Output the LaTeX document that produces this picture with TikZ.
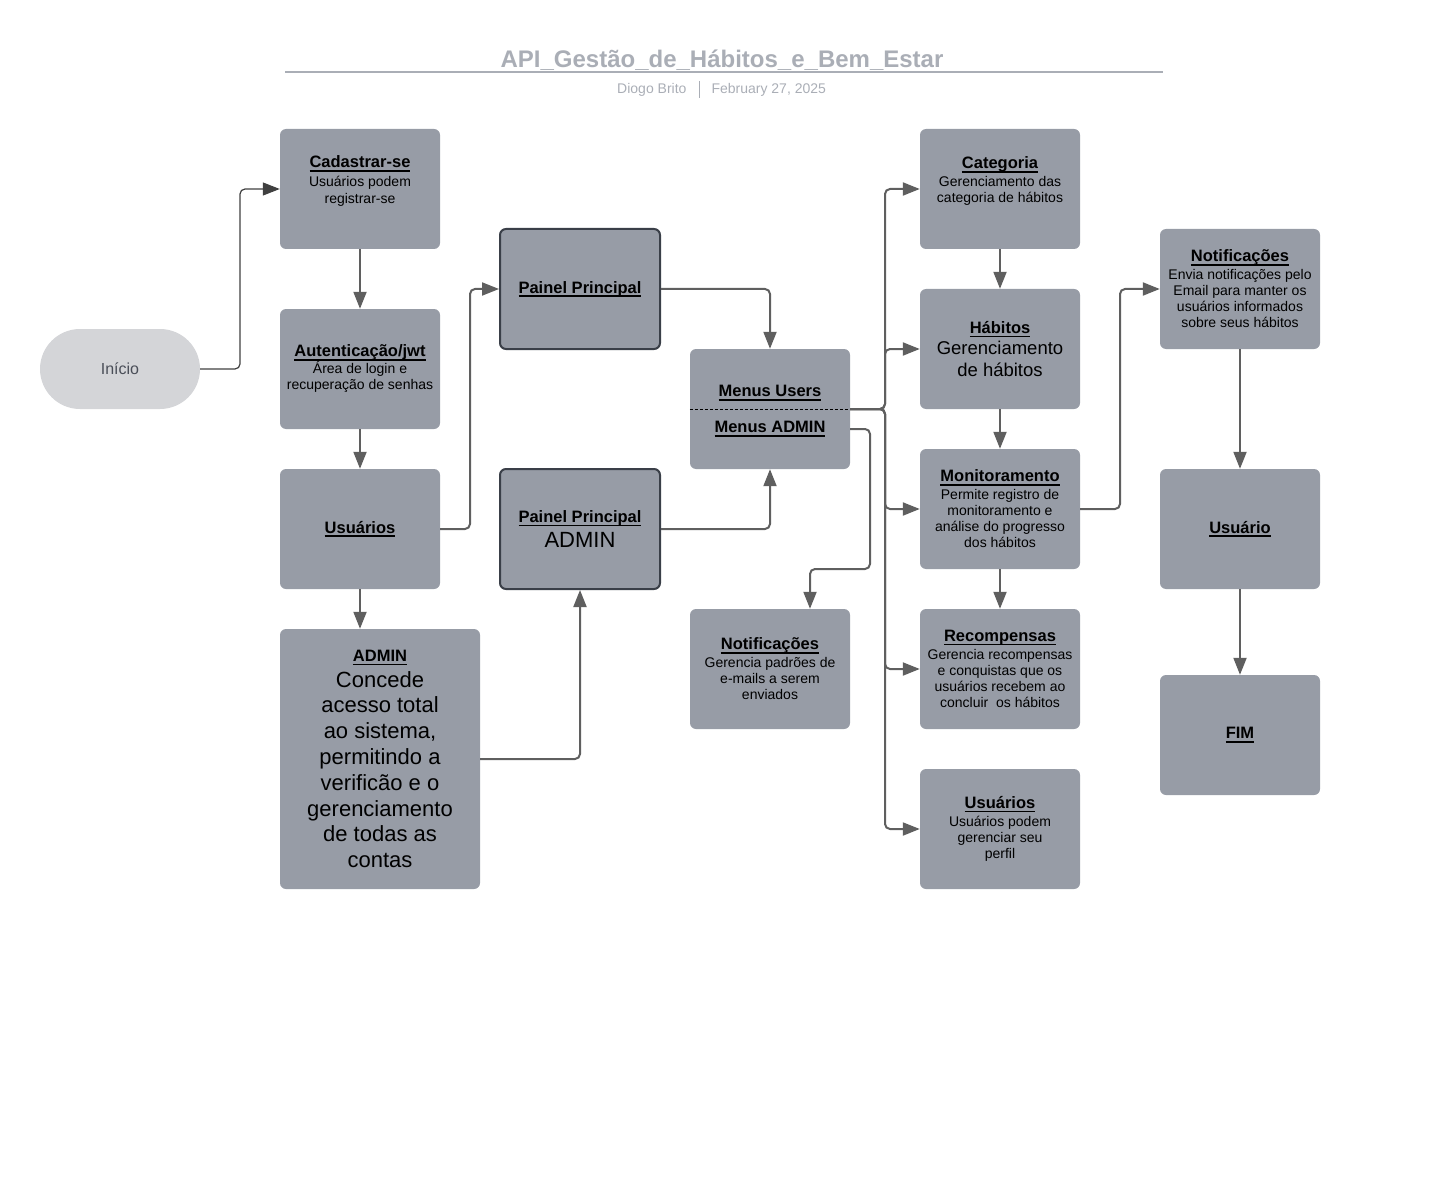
\documentclass[tikz,border=0pt]{standalone}
\usepackage{fontspec}
\setmainfont{Liberation Sans}
\usetikzlibrary{arrows.meta}
\definecolor{boxgray}{RGB}{151,156,166}
\definecolor{pillgray}{RGB}{212,213,216}
\definecolor{pilltext}{RGB}{74,78,88}
\definecolor{edgegray}{RGB}{95,95,95}
\definecolor{paneledge}{RGB}{58,63,72}
\definecolor{titlegray}{RGB}{170,174,182}
\newcommand{\hd}[1]{{\fontsize{16.5}{18}\selectfont\bfseries\setbox0\hbox{#1}%
  \rlap{\vrule height -2.2pt depth 3.8pt width \wd0}\box0}}
\newcommand{\bigtxt}{\fontsize{18.5}{22}\selectfont}
\tikzset{
  box/.style={fill=boxgray, rounded corners=6pt, minimum width=160pt, minimum height=120pt,
    align=center, inner sep=2pt, font=\fontsize{14}{16}\selectfont},
  panelbox/.style={box, draw=paneledge, line width=2pt},
  pill/.style={fill=pillgray, rounded corners=40pt, minimum width=160pt, minimum height=80pt,
    text=pilltext, font=\fontsize{16}{18}\selectfont},
  flow/.style={draw=edgegray, line width=2pt, rounded corners=5pt, -{Triangle[length=17pt,width=13pt]}},
}
\begin{document}
\begin{tikzpicture}[x=1pt,y=-1pt]
  \useasboundingbox (0,0) rectangle (1440,1190);

  \draw[titlegray, line width=1.5pt] (285,72) -- (1163,72);
  \node[text=titlegray, font=\fontsize{24}{26}\selectfont\bfseries] (title) at (722,60) {API\_Gestão\_de\_Hábitos\_e\_Bem\_Estar};
  \node[text=titlegray, anchor=east, font=\fontsize{14}{16}\selectfont] (autor) at (690,90) {Diogo Brito};
  \node[text=titlegray, anchor=west, font=\fontsize{14}{16}\selectfont] (data) at (708,90) {February 27, 2025};
  \draw[titlegray, line width=0.8pt] (699,81) -- (699,98);

  \node[pill] (inicio) at (120,369) {Início};
  \node[box] (cad) at (360,189) {\hd{Cadastrar-se}\\[3pt] Usuários podem\\[1pt]registrar-se\\[2pt]\mbox{}};
  \node[box] (aut) at (360,369) {\hd{Autenticação/jwt}\\[1pt] Área de login e\\recuperação de senhas};
  \node[box] (usr) at (360,529) {\hd{Usuários}};
  \node[box, minimum width=200pt, minimum height=260pt, font=\fontsize{22}{25.8}\selectfont] (adm) at (380,759)
    {\hd{ADMIN}\\Concede\\acesso total\\ao sistema,\\permitindo a\\verificão e o\\gerenciamento\\de todas as\\contas};

  \node[panelbox] (pp) at (580,289) {\hd{Painel Principal}};
  \node[panelbox] (ppa) at (580,529) {\hd{Painel Principal}\\[5pt]{\fontsize{22}{24}\selectfont ADMIN}};

  \node[box] (menu) at (770,409) {};
  \node (menuusr) at (770,393) {\hd{Menus Users}};
  \node (menuadm) at (770,429) {\hd{Menus ADMIN}};
  \draw[black, line width=0.8pt, dash pattern=on 3pt off 2pt] (menu.west) -- (menu.east);
  \node[box] (notifadm) at (770,669) {\hd{Notificações}\\[2pt] Gerencia padrões de\\e-mails a serem\\enviados};

  \node[box] (cat) at (1000,189) {\hd{Categoria}\\[2pt] Gerenciamento das\\categoria de hábitos\\[2pt]\mbox{}};
  \node[box] (hab) at (1000,349) {\hd{Hábitos}\\[3pt]{\bigtxt Gerenciamento}\\[6pt]{\bigtxt de hábitos}};
  \node[box] (mon) at (1000,509) {\hd{Monitoramento}\\[2pt] Permite registro de\\monitoramento e\\análise do progresso\\dos hábitos};
  \node[box] (rec) at (1000,669) {\hd{Recompensas}\\[2pt] Gerencia recompensas\\e conquistas que os\\usuários recebem ao\\concluir \ os hábitos};
  \node[box] (usrb) at (1000,829) {\hd{Usuários}\\[2pt] Usuários podem\\gerenciar seu\\perfil};

  \node[box] (notif) at (1240,289) {\hd{Notificações}\\[2pt] Envia notificações pelo\\Email para manter os\\usuários informados\\sobre seus hábitos};
  \node[box] (usuario) at (1240,529) {\hd{Usuário}};
  \node[box] (fim) at (1240,735) {\hd{FIM}};

  \coordinate (hub) at (885,409);

  \draw[flow, line width=1.2pt, draw=black!75] (inicio.east) -- (240,369) |- (cad.west);
  \draw[flow] (cad) -- (aut);
  \draw[flow] (aut) -- (usr);
  \draw[flow] (usr.south) -- (usr.south |- adm.north);
  \draw[flow] (usr.east) -- (470,529) |- (pp.west);
  \draw[flow] (pp.east) -| (menu.north);
  \draw[flow] (ppa.east) -| (menu.south);
  \draw[flow] (adm.east) -| (ppa.south);
  \foreach \dest in {cat,hab,mon,rec,usrb}
    \draw[flow] (menu.east) -- (hub) |- (\dest.west);
  \draw[flow] (menu.east |- menuadm) -| (870,569) -| ([xshift=40pt]notifadm.north);
  \draw[flow] (cat) -- (hab);
  \draw[flow] (hab) -- (mon);
  \draw[flow] (mon) -- (rec);
  \draw[flow] (mon.east) -- (1120,509) |- (notif.west);
  \draw[flow] (notif) -- (usuario);
  \draw[flow] (usuario) -- (fim);
\end{tikzpicture}
\end{document}
